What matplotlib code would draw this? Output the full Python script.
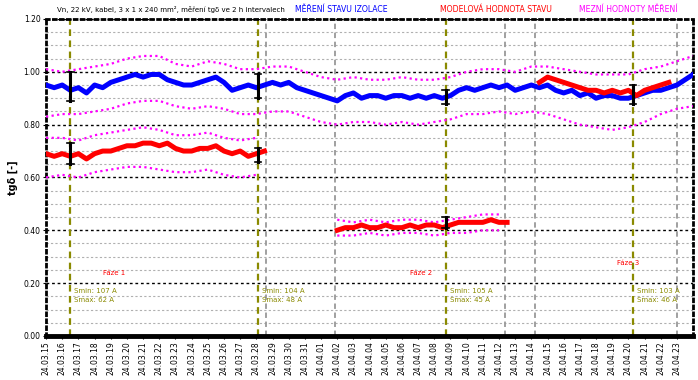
import numpy as np
import matplotlib.pyplot as plt
from matplotlib.ticker import MultipleLocator

# osa x: dny od zacatku mereni
date_labels = ["24.03.15", "24.03.16", "24.03.17", "24.03.18", "24.03.19", "24.03.20",
               "24.03.21", "24.03.22", "24.03.23", "24.03.24", "24.03.25", "24.03.26",
               "24.03.27", "24.03.28", "24.03.29", "24.03.30", "24.03.31", "24.04.01",
               "24.04.02", "24.04.03", "24.04.04", "24.04.05", "24.04.06", "24.04.07",
               "24.04.08", "24.04.09", "24.04.10", "24.04.11", "24.04.12", "24.04.13",
               "24.04.14", "24.04.15", "24.04.16", "24.04.17", "24.04.18", "24.04.19",
               "24.04.20", "24.04.21", "24.04.22", "24.04.23"]

# modra - mereni, krok 0.5 dne
blue_x = np.arange(0, 40.01, 0.5)
blue = [0.95, 0.94, 0.95, 0.93, 0.94, 0.92, 0.95, 0.94, 0.96, 0.97, 0.98, 0.99, 0.98, 0.99,
        0.99, 0.97, 0.96, 0.95, 0.95, 0.96, 0.97, 0.98, 0.96, 0.93, 0.94, 0.95, 0.94, 0.95,
        0.96, 0.95, 0.96, 0.94, 0.93, 0.92, 0.91, 0.90, 0.89, 0.91, 0.92, 0.90, 0.91, 0.91,
        0.90, 0.91, 0.91, 0.90, 0.91, 0.90, 0.91, 0.90, 0.91, 0.93, 0.94, 0.93, 0.94, 0.95,
        0.94, 0.95, 0.93, 0.94, 0.95, 0.94, 0.95, 0.93, 0.92, 0.93, 0.91, 0.92, 0.90, 0.91,
        0.91, 0.90, 0.90, 0.91, 0.92, 0.93, 0.93, 0.94, 0.95, 0.97, 0.99]

# magenta meze kolem modre
lim_x = np.arange(0, 41, 1)
blue_up = [1.01, 1.00, 1.01, 1.02, 1.03, 1.05, 1.06, 1.06, 1.03, 1.02, 1.04, 1.03, 1.01, 1.01,
           1.02, 1.02, 1.00, 0.98, 0.97, 0.98, 0.97, 0.97, 0.98, 0.97, 0.97, 0.98, 1.00, 1.01,
           1.01, 1.00, 1.02, 1.02, 1.01, 1.00, 0.99, 0.99, 0.99, 1.01, 1.02, 1.04, 1.06]
blue_lo = [0.83, 0.84, 0.84, 0.85, 0.86, 0.88, 0.89, 0.89, 0.87, 0.86, 0.87, 0.86, 0.84, 0.84,
           0.85, 0.85, 0.83, 0.81, 0.80, 0.81, 0.81, 0.80, 0.81, 0.80, 0.81, 0.82, 0.84, 0.84,
           0.85, 0.84, 0.85, 0.84, 0.82, 0.80, 0.79, 0.78, 0.79, 0.81, 0.84, 0.86, 0.87]

# cervena - model, tri useky
red1_x = np.arange(0, 13.51, 0.5)
red1 = [0.69, 0.68, 0.69, 0.68, 0.69, 0.67, 0.69, 0.70, 0.70, 0.71, 0.72, 0.72, 0.73, 0.73,
        0.72, 0.73, 0.71, 0.70, 0.70, 0.71, 0.71, 0.72, 0.70, 0.69, 0.70, 0.68, 0.69, 0.70]
red1_lx = np.arange(0, 14, 1)
red1_up = [0.75, 0.75, 0.74, 0.76, 0.77, 0.78, 0.79, 0.78, 0.76, 0.76, 0.77, 0.75, 0.74, 0.75]
red1_lo = [0.60, 0.61, 0.60, 0.62, 0.63, 0.64, 0.64, 0.63, 0.62, 0.62, 0.63, 0.61, 0.60, 0.61]

red2_x = np.arange(18, 28.51, 0.5)
red2 = [0.40, 0.41, 0.41, 0.42, 0.41, 0.41, 0.42, 0.41, 0.41, 0.42, 0.41, 0.42, 0.42, 0.41,
        0.42, 0.43, 0.43, 0.43, 0.43, 0.44, 0.43, 0.43]
red2_lx = np.arange(18, 29, 1)
red2_up = [0.44, 0.43, 0.44, 0.43, 0.44, 0.44, 0.43, 0.44, 0.45, 0.46, 0.46]
red2_lo = [0.38, 0.38, 0.39, 0.38, 0.39, 0.39, 0.38, 0.39, 0.39, 0.40, 0.40]

red3_x = np.arange(30.5, 38.51, 0.5)
red3 = [0.96, 0.98, 0.97, 0.96, 0.95, 0.94, 0.93, 0.93, 0.92, 0.93, 0.92, 0.93, 0.91, 0.93,
        0.94, 0.95, 0.96]

# chybove useky (poloha, dolni, horni)
err_x = [1.5, 1.5, 13.1, 13.1, 24.7, 24.7, 36.3]
err_lo = [0.89, 0.65, 0.90, 0.66, 0.88, 0.41, 0.88]
err_hi = [1.00, 0.73, 0.99, 0.71, 0.93, 0.45, 0.95]

olive_lines = [1.48, 13.1, 24.7, 36.3]
gray_lines = [13.6, 17.86, 28.4, 30.2, 39.0]

phase_x = [3.5, 22.5, 35.3]
phase_y = [0.24, 0.24, 0.275]
phase_txt = ["Fáze 1", "Fáze 2", "Fáze 3"]

cur_x = [1.75, 13.35, 24.95, 36.55]
cur_txt1 = ["Smin: 107 A", "Smin: 104 A", "Smin: 105 A", "Smin: 103 A"]
cur_txt2 = ["Smax: 62 A", "Smax: 48 A", "Smax: 45 A", "Smax: 46 A"]

MAG = '#ff00ff'
OLIVE = '#8a8a00'

fig = plt.figure(figsize=(6.98, 3.80), dpi=100)
ax = fig.add_axes([0.066, 0.116, 0.927, 0.834])

for xv in olive_lines:
    ax.axvline(xv, color=OLIVE, ls=(0, (3, 2)), lw=1.6, zorder=2)
for xv in gray_lines:
    ax.axvline(xv, color='#999999', ls=(0, (3, 2)), lw=1.3, zorder=2)

for lx, ly in [(lim_x, blue_up), (lim_x, blue_lo), (red1_lx, red1_up),
               (red1_lx, red1_lo), (red2_lx, red2_up), (red2_lx, red2_lo)]:
    ax.plot(lx, ly, ls=(0, (1, 1.5)), color=MAG, lw=1.6, zorder=3)

ax.plot(blue_x, blue, color='#0000ff', lw=3.6, zorder=4)
ax.plot(red1_x, red1, color='#ff0000', lw=3.6, zorder=4)
ax.plot(red2_x, red2, color='#ff0000', lw=3.6, zorder=4)
ax.plot(red3_x, red3, color='#ff0000', lw=3.6, zorder=5)

for xv, lo, hi in zip(err_x, err_lo, err_hi):
    ax.plot([xv, xv], [lo, hi], color='black', lw=2.2, zorder=6)
    ax.plot([xv - 0.2, xv + 0.2], [lo, lo], color='black', lw=1.2, zorder=6)
    ax.plot([xv - 0.2, xv + 0.2], [hi, hi], color='black', lw=1.2, zorder=6)

for xv, yv, t in zip(phase_x, phase_y, phase_txt):
    ax.text(xv, yv, t, color='red', fontsize=5, va='center')
for xv, t1, t2 in zip(cur_x, cur_txt1, cur_txt2):
    ax.text(xv, 0.17, t1, color=OLIVE, fontsize=5, va='center')
    ax.text(xv, 0.136, t2, color=OLIVE, fontsize=5, va='center')

ax.set_xlim(0, 40)
ax.set_ylim(0, 1.2)
ax.set_xticks(np.arange(len(date_labels)))
ax.set_xticklabels(date_labels, rotation=90, fontsize=5.5)
ax.yaxis.set_major_locator(MultipleLocator(0.2))
ax.yaxis.set_minor_locator(MultipleLocator(0.05))
ax.set_yticks(np.arange(0, 1.21, 0.2))
ax.set_yticklabels(["%.2f" % v for v in np.arange(0, 1.21, 0.2)], fontsize=5.5)
ax.tick_params(axis='both', length=2, pad=2)
ax.tick_params(axis='y', which='minor', length=0)

ax.grid(axis='y', which='major', color='black', ls=(0, (2, 2)), lw=1.0, zorder=1)
ax.grid(axis='y', which='minor', color='#b0b0b0', ls=(0, (2, 2)), lw=0.8, zorder=1)

for s in ['left', 'top', 'right']:
    ax.spines[s].set_linestyle((0, (1, 1.5)))
    ax.spines[s].set_linewidth(2)
ax.spines['bottom'].set_linewidth(3.5)

ax.set_ylabel("tgδ [-]", fontsize=7, fontweight='bold', labelpad=4)

fig.text(0.082, 0.975, "Vn, 22 kV, kabel, 3 x 1 x 240 mm², měření tgδ ve 2 h intervalech",
         fontsize=5, va='center')
fig.text(0.423, 0.975, "MĚŘENÍ STAVU IZOLACE", fontsize=5.6, color='#0000ff', va='center')
fig.text(0.63, 0.975, "MODELOVÁ HODNOTA STAVU", fontsize=5.6, color='#ff0000', va='center')
fig.text(0.83, 0.975, "MEZNÍ HODNOTY MĚŘENÍ", fontsize=5.6, color=MAG, va='center')

fig.savefig("out.png", dpi=100)
